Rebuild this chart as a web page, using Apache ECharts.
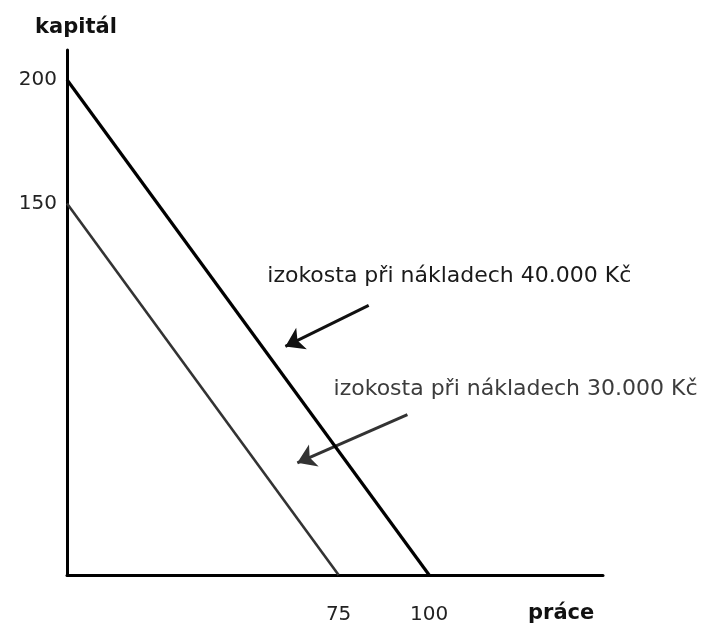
<!DOCTYPE html>
<html>
<head>
<meta charset="utf-8">
<script src="https://cdn.jsdelivr.net/npm/echarts@6/dist/echarts.min.js"></script>
<style>
  html, body { margin: 0; padding: 0; background: #fff; }
  #chart { width: 702px; height: 629px; }
</style>
</head>
<body>
<div id="chart"></div>
<script>
// izokosty: prace (x) a kapital (y)
var isocost40 = [[0, 200], [100, 0]];
var isocost30 = [[0, 150], [75, 0]];
var xTicks = [75, 100];
var yTicks = [150, 200];
var label40 = 'izokosta při nákladech 40.000 Kč';
var label30 = 'izokosta při nákladech 30.000 Kč';
// popisky a sipky v souradnicich grafu
var label40At = [55.3, 120.6];
var label30At = [73.6, 74.9];
var arrow40 = [[83.3, 108.9], [60.3, 92.3]];
var arrow30 = [[94, 64.8], [63.6, 45.3]];

var chart = echarts.init(document.getElementById('chart'));
var font = 'DejaVu Sans';

var option = {
  animation: false,
  grid: { left: 67, right: 99, top: 50, bottom: 54 },
  graphic: [
    {
      type: 'text',
      left: 528,
      top: 603,
      style: { text: 'práce', fill: '#111', font: 'bold 21px "DejaVu Sans"' }
    }
  ],
  xAxis: {
    type: 'value',
    min: 0,
    max: 148,
    axisLine: { show: true, lineStyle: { color: '#000', width: 3 } },
    axisTick: { show: false },
    splitLine: { show: false },
    axisLabel: { customValues: xTicks, margin: 30, color: '#222', fontFamily: font, fontSize: 20 }
  },
  yAxis: {
    type: 'value',
    min: 0,
    max: 212,
    name: 'kapitál',
    nameLocation: 'end',
    nameGap: 12,
    nameTextStyle: { color: '#111', fontFamily: font, fontWeight: 'bold', fontSize: 21, align: 'center', padding: [0, 0, 0, 18] },
    axisLine: { show: true, lineStyle: { color: '#000', width: 3 } },
    axisTick: { show: false },
    splitLine: { show: false },
    axisLabel: { customValues: yTicks, margin: 10, color: '#222', fontFamily: font, fontSize: 20 }
  },
  series: [
    {
      name: '40000',
      type: 'line',
      data: isocost40,
      symbol: 'none',
      lineStyle: { color: '#000', width: 3.2 }
    },
    {
      name: '30000',
      type: 'line',
      data: isocost30,
      symbol: 'none',
      lineStyle: { color: '#333', width: 2.6 }
    },
    {
      type: 'lines',
      coordinateSystem: 'cartesian2d',
      symbol: ['none', 'arrow'],
      symbolSize: 18,
      silent: true,
      data: [
        { coords: arrow40, lineStyle: { color: '#111', width: 3, opacity: 1 } },
        { coords: arrow30, lineStyle: { color: '#333', width: 3, opacity: 1 } }
      ]
    },
    {
      type: 'scatter',
      symbolSize: 0,
      silent: true,
      itemStyle: { opacity: 1 },
      label: {
        show: true,
        position: 'right',
        distance: 0,
        fontFamily: font,
        fontSize: 22,
        formatter: function (p) { return p.data.text; }
      },
      data: [
        { value: label40At, text: label40, label: { color: '#1a1a1a' } },
        { value: label30At, text: label30, label: { color: '#3c3c3c' } }
      ]
    }
  ]
};
chart.setOption(option);
</script>
</body>
</html>
